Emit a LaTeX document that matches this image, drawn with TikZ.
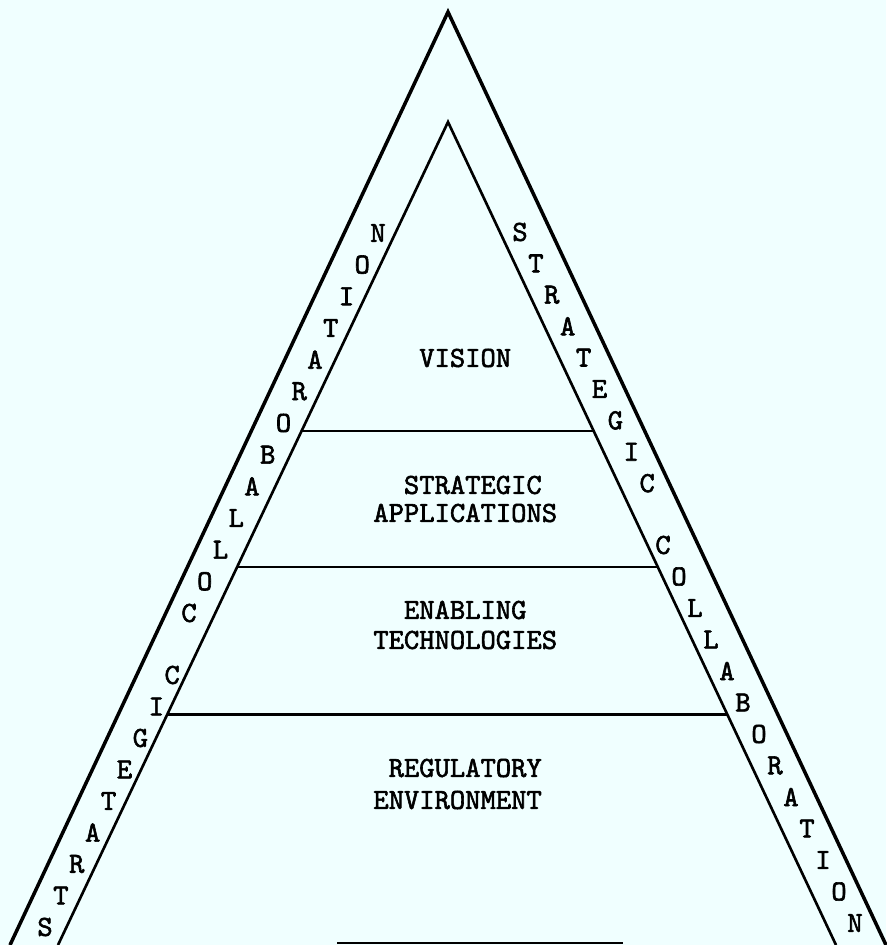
\documentclass[tikz,border=0pt]{standalone}
\usepackage{fontspec}
\usetikzlibrary{calc}
\newfontfamily\typewfont{lmmono10-regular.otf}[FakeBold=2]
\definecolor{paper}{RGB}{240,255,255}
\newcommand{\typew}{\fontsize{16.6}{17}\selectfont\typewfont}
\begin{document}
\begin{tikzpicture}
  [x=0.02cm, y=-0.02cm,
   side/.style={line width=2pt, line join=miter},
   band/.style={line width=1.6pt},
   layer/.style={anchor=west, inner sep=0pt, font=\typew},
   letter/.style={inner sep=0pt, font=\typew}]
  \fill[paper] (0,0) rectangle (886,945);
  \useasboundingbox (0,0) rectangle (886,945);

  % outer and inner triangle
  \coordinate (otop) at (448,12);
  \coordinate (oleft) at (10,945);
  \coordinate (oright) at (886,945);
  \coordinate (itop) at (448,122);
  \coordinate (ileft) at (58,945);
  \coordinate (iright) at (836,945);
  \draw[side] (oleft) -- (otop) -- (oright);
  \draw[line width=1.5pt] (ileft) -- (itop) -- (iright);

  % layer boundaries
  \coordinate (a1) at ($(itop)!0.3755!(ileft)$);
  \coordinate (b1) at ($(itop)!0.3755!(iright)$);
  \coordinate (a2) at ($(itop)!0.5407!(ileft)$);
  \coordinate (b2) at ($(itop)!0.5407!(iright)$);
  \coordinate (a3) at ($(itop)!0.7195!(ileft)$);
  \coordinate (b3) at ($(itop)!0.7195!(iright)$);
  \draw[band] (a1) -- (b1);
  \draw[band] (a2) -- (b2);
  \draw[band] (a3) -- (b3);
  \coordinate (base1) at (337,943);
  \coordinate (base2) at (623,943);
  \draw[band] (base1) -- (base2);

  % layer labels
  \node[layer] (vision) at (373,358) {\phantom{XXX}VISION};
  \node[layer] (strat) at (373,485) {\phantom{XX}STRATEGIC};
  \node[layer] (appl) at (373,513) {APPLICATIONS};
  \node[layer] (enab) at (373,610) {\phantom{XX}ENABLING};
  \node[layer] (tech) at (373,640) {TECHNOLOGIES};
  \node[layer] (regu) at (373,768) {\phantom{X}REGULATORY};
  \node[layer] (envi) at (373,800) {ENVIRONMENT};

  % letters in the left strip
  \foreach \c [count=\i from 0] in {S,T,R,A,T,E,G,I,C}
    \node[letter] (ls\i) at ({45+15.9*\i},{927-31.5*\i}) {\c};
  \foreach \c [count=\i from 0] in {C,O,L,L,A,B,O,R,A,T,I,O,N}
    \node[letter] (lc\i) at ({189+15.75*\i},{613-31.67*\i}) {\c};

  % letters in the right strip
  \foreach \c [count=\i from 0] in {S,T,R,A,T,E,G,I,C}
    \node[letter] (rs\i) at ({520+15.9*\i},{232+31.4*\i}) {\c};
  \foreach \c [count=\i from 0] in {C,O,L,L,A,B,O,R,A,T,I,O,N}
    \node[letter] (rc\i) at ({663+16*\i},{545+31.5*\i}) {\c};
\end{tikzpicture}
\end{document}
